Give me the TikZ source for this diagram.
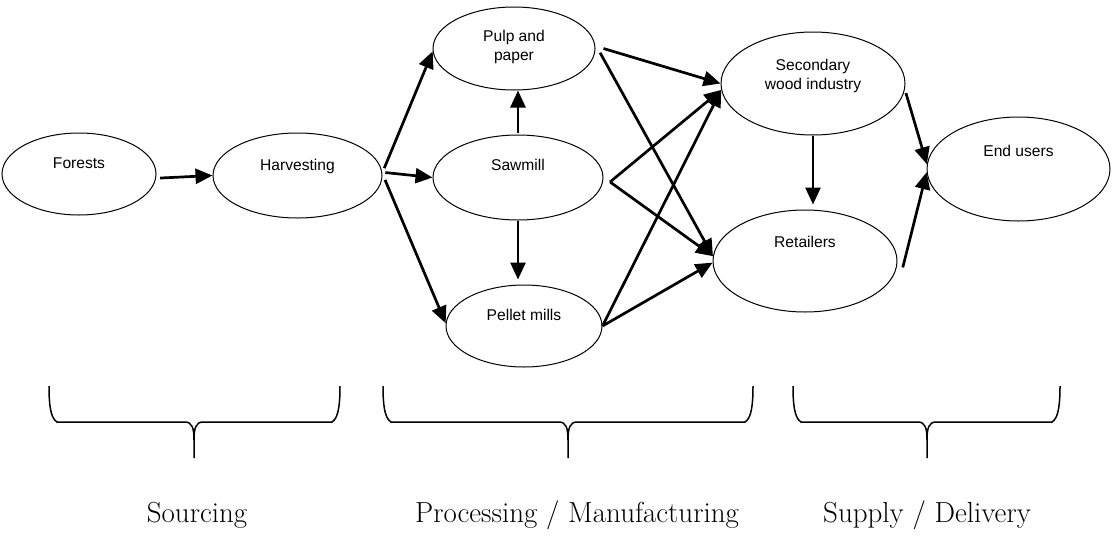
\documentclass[tikz,border=0pt]{standalone}
\usepackage{fontspec}
\newfontfamily\boxfont{Liberation Sans}
\usetikzlibrary{shapes.geometric, arrows.meta}

\begin{document}
\begin{tikzpicture}[x=1pt, y=-1pt,
    stage/.style={ellipse, draw, line width=1pt, inner sep=0pt, align=center,
      font=\boxfont\fontsize{15.6}{19}\selectfont},
    flow/.style={-{Triangle[length=17pt, width=15pt]}, line width=2.7pt},
    bracket/.style={line width=1.5pt},
    phase/.style={anchor=base, font=\fontsize{29}{34}\selectfont}]
  \useasboundingbox (0,0) rectangle (1112,536);
  % supply chain stages
  \node[stage, minimum width=154pt, minimum height=82pt, text depth=22pt] (forests) at (79,174) {Forests};
  \node[stage, minimum width=169pt, minimum height=85pt, text depth=22pt] (harvest) at (297.5,175.5) {Harvesting};
  \node[stage, minimum width=162pt, minimum height=83pt, text depth=7pt] (pulp) at (514,48.5) {Pulp and\\paper};
  \node[stage, minimum width=170pt, minimum height=85pt, text depth=26pt] (sawmill) at (518,177.5) {Sawmill};
  \node[stage, minimum width=156pt, minimum height=82pt, text depth=22pt] (pellet) at (524,326) {Pellet mills};
  \node[stage, minimum width=184pt, minimum height=103pt, text depth=18pt] (secondary) at (813,83.5) {Secondary\\wood industry};
  \node[stage, minimum width=184pt, minimum height=102pt, text depth=38pt] (retailers) at (805,261) {Retailers};
  \node[stage, minimum width=183pt, minimum height=104pt, text depth=36pt] (endusers) at (1018.5,169) {End users};

  \draw[flow] ([xshift=4pt]forests.-3) -- (harvest.west);
  \draw[flow] ([xshift=3pt]harvest.5) -- (pulp.182);
  \draw[flow] ([xshift=3pt]harvest.2) -- (sawmill.west);
  \draw[flow] ([xshift=3pt]harvest.-3) -- (pellet.178);
  \draw[flow, shorten <=2pt] (sawmill.north) -- (sawmill.north |- pulp.south);
  \draw[flow, shorten >=5pt] (sawmill.south) -- (sawmill.south |- pellet.north);
  \draw[flow] ([xshift=8pt]pulp.east) -- (secondary.west);
  \draw[flow] ([xshift=5pt]pulp.-3) -- (retailers.177);
  \draw[flow] ([xshift=7pt]sawmill.-3) -- (secondary.184);
  \draw[flow] ([xshift=7pt]sawmill.-3) -- (retailers.177);
  \draw[flow] (pellet.east) -- (secondary.184);
  \draw[flow] (pellet.east) -- (retailers.181);
  \draw[flow, shorten >=5pt] (secondary.south) -- (secondary.south |- retailers.north);
  \draw[flow] ([xshift=2pt]secondary.-6) -- (endusers.177);
  \draw[flow] ([xshift=6pt]retailers.-4) -- (endusers.182);

  % phase braces
  \foreach \l/\t/\r/\tx/\name/\lbl in {49/194/340/197/sourcing/Sourcing,
      383/568/753/577/processing/{Processing / Manufacturing},
      793/927/1060/927/supply/{Supply / Delivery}} {
    \draw[bracket] (\l,386) .. controls (\l,402) and (\l+1,418) .. (\l+8,422) -- (\t-9,422)
      .. controls (\t-2,422) and (\t,428) .. (\t,440) -- (\t,458)
      (\t,440) .. controls (\t,428) and (\t+2,422) .. (\t+9,422) -- (\r-8,422)
      .. controls (\r-1,418) and (\r,402) .. (\r,386);
    \node[phase] (\name) at (\tx,522) {\lbl};
  }
\end{tikzpicture}
\end{document}
